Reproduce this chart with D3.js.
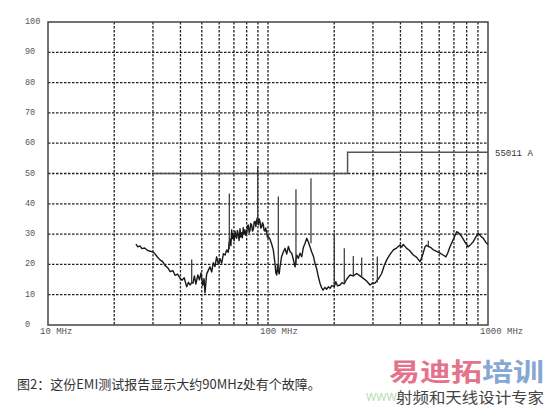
<!DOCTYPE html>
<html>
<head>
<meta charset="utf-8">
<script src="https://cdn.jsdelivr.net/npm/d3@7/dist/d3.min.js"></script>
<style>
  body { margin: 0; background: #fff; }
  svg { display: block; }
</style>
</head>
<body>
<div id="chart"></div>
<script>
// y ticks and x tick labels
var yTicks = [0, 10, 20, 30, 40, 50, 60, 70, 80, 90, 100];
var xGrid = [20, 30, 40, 50, 60, 70, 80, 90, 100, 200, 300, 400, 500, 600, 700, 800, 900];
var xLabels = [10, 100, 1000];

// limit line (EN 55011 class A)
var limitFreq = [30, 230, 230, 1000];
var limitLevel = [50, 50, 57, 57];

// measured trace, MHz / dBuV
var traceFreq = [25.1, 25.6, 26.2, 26.7, 27.5, 28.4, 29.6, 30.4, 31.3, 32.3, 33.2, 34.1, 35.0, 35.9, 37.0, 37.8, 38.8, 39.8,
  40.7, 41.6, 42.7, 43.5, 44.3, 45.0, 45.6, 46.3, 47.0, 48.0, 48.8, 49.6, 50.5, 51.2, 51.7, 52.6, 53.6, 54.5, 55.5, 56.4,
  57.4, 58.4, 59.5, 60.5, 61.6, 62.7, 63.8, 64.9, 66.0, 66.5, 67.2, 67.8, 68.4, 69.0, 69.6, 70.2, 70.8, 71.4, 72.0, 72.6,
  73.3, 73.9, 74.6, 75.2, 75.9, 76.5, 77.2, 77.9, 78.6, 79.3, 80.0, 80.7, 81.4, 82.1, 82.8, 83.5, 84.3, 85.0, 85.8, 86.5,
  87.3, 88.1, 88.9, 89.6, 90.5, 91.2, 92.0, 92.8, 93.6, 94.4, 95.2, 96.0, 96.9, 97.7, 98.6, 99.4, 100.3, 102.0, 103.8,
  105.7, 107.5, 108.5, 109.6,
  110.5, 111.4, 112.4, 113.4, 115.3, 117.4, 119.5, 121.6, 123.8, 126.0, 128.2, 130.4, 132.7, 134.0, 135.1, 137.4, 139.8,
  142.3, 144.8, 147.4, 150.0, 152.6, 155.2, 158.0, 160.7, 163.5, 166.4, 169.3, 172.3, 175.3, 177.8, 181.5, 184.7, 188.0,
  191.4, 195.0, 200.1, 203.5, 207.0, 212.5, 217.0, 222.2, 228.0, 235.9, 244.2, 253.1, 261.0, 271.2, 280.0, 290.9, 299.0,
  306.5, 314.0, 320.0, 328.6, 337.0, 346.4, 358.0, 371.5, 384.0, 398.1, 405.0, 412.0, 426.9, 440.0, 457.5, 473.0, 490.7,
  503.0, 517.1, 526.0, 535.5, 549.0, 564.0, 584.0, 605.1, 625.0, 644.3, 658.0, 671.9, 695.0, 720.6, 738.0, 759.2, 785.0,
  813.3, 835.0, 857.0, 880.0, 903.6, 925.0, 952.0, 975.0, 1000];
var traceLevel = [26.7, 25.8, 26.1, 25.2, 25.4, 24.6, 24.2, 23.8, 22.6, 21.5, 20.9, 19.6, 18.9, 17.6, 17.9, 16.4, 16.8, 15.5,
  14.8, 15.6, 12.6, 14.1, 13.2, 14.0, 13.8, 16.2, 13.5, 16.5, 14.9, 17.2, 13.1, 15.3, 10.6, 16.8, 18.1, 19.2, 17.5, 20.6,
  19.3, 22.5, 20.1, 21.9, 20.4, 23.5, 23.1, 24.8, 24.0, 27.0, 28.3, 26.2, 31.4, 28.5, 30.1, 27.8, 31.0, 29.2, 28.6, 31.2,
  29.7, 27.9, 31.8, 29.0, 30.5, 28.8, 32.1, 30.0, 31.4, 29.6, 30.2, 32.6, 33.0, 30.5, 31.2, 33.5, 33.0, 31.0, 31.6, 34.0,
  34.2, 32.5, 34.7, 35.5, 33.1, 35.0, 34.0, 32.0, 32.4, 33.8, 33.1, 31.2, 31.0, 32.0, 30.6, 29.0, 29.2, 28.4, 26.8,
  24.8, 20.5, 17.2, 16.5,
  19.8, 17.8, 16.9, 19.2, 22.6, 24.1, 25.3, 23.4, 25.9, 24.2, 23.7, 21.6, 19.2, 21.5, 23.1, 22.0, 23.7,
  22.5, 25.6, 27.0, 28.6, 27.4, 25.8, 24.1, 22.8, 20.4, 18.6, 16.0, 13.8, 12.3, 11.5, 12.4, 11.8, 12.6,
  12.1, 13.0, 12.7, 14.3, 12.9, 13.2, 14.0, 13.6, 15.2, 16.5, 16.2, 17.0, 16.3, 15.4, 14.6, 13.2, 13.9,
  13.8, 14.8, 15.6, 17.0, 19.5, 21.5, 23.2, 24.8, 25.4, 26.4, 25.7, 26.6, 25.3, 24.6, 23.1, 22.4, 20.9,
  22.8, 25.8, 26.3, 25.9, 25.6, 24.8, 24.3, 23.7, 23.1, 22.5, 24.0, 25.8, 28.2, 30.8, 30.3, 29.2, 27.4,
  25.8, 26.6, 27.5, 29.0, 30.3, 29.4, 28.6, 27.4, 26.6];

// narrow-band spikes
var spikeFreq = [45.0, 66.7, 89.8, 111.4, 134.0, 156.8, 200.1, 222.2, 244.2, 266.6, 314.0, 535.5];
var spikeBase = [14.0, 25.0, 34.0, 18.0, 20.0, 27.0, 13.0, 14.0, 16.0, 16.0, 14.0, 25.9];
var spikePeak = [21.6, 43.4, 52.3, 42.4, 44.8, 48.4, 30.3, 25.3, 22.8, 22.3, 22.6, 27.8];

var W = 550, H = 410;
var plotL = 48, plotR = 488, plotT = 22, plotB = 325;

var svg = d3.select("#chart").append("svg")
  .attr("width", W)
  .attr("height", H);

var x = d3.scaleLog().domain([10, 1000]).range([plotL, plotR]);
var y = d3.scaleLinear().domain([0, 100]).range([plotB, plotT]);

var mono = "'Liberation Mono', 'DejaVu Sans Mono', monospace";

// grid
svg.append("g").selectAll("line")
  .data(yTicks.filter(function(d) { return d > 0 && d < 100; }))
  .enter().append("line")
  .attr("x1", plotL).attr("x2", plotR)
  .attr("y1", function(d) { return y(d); })
  .attr("y2", function(d) { return y(d); })
  .style("stroke", "#222")
  .style("stroke-width", 1.3)
  .style("stroke-dasharray", "2.5,1.5");

svg.append("g").selectAll("line")
  .data(xGrid)
  .enter().append("line")
  .attr("x1", function(d) { return x(d); })
  .attr("x2", function(d) { return x(d); })
  .attr("y1", plotT).attr("y2", plotB)
  .style("stroke", "#222")
  .style("stroke-width", 1.3)
  .style("stroke-dasharray", "2.5,1.5");

// frame
svg.append("rect")
  .attr("x", plotL).attr("y", plotT)
  .attr("width", plotR - plotL).attr("height", plotB - plotT)
  .style("fill", "none")
  .style("stroke", "#444")
  .style("stroke-width", 1.5);

// y labels
svg.append("g").selectAll("text")
  .data(yTicks)
  .enter().append("text")
  .attr("x", 25)
  .attr("y", function(d) { return y(d) + 2; })
  .style("font-family", mono)
  .style("font-size", "8.5px")
  .style("fill", "#555")
  .text(function(d) { return d; });

// x labels
svg.append("g").selectAll("text")
  .data(xLabels)
  .enter().append("text")
  .attr("x", function(d) { return x(d) - 8; })
  .attr("y", 334)
  .style("font-family", mono)
  .style("font-size", "9px")
  .style("fill", "#555")
  .text(function(d) { return d + " MHz"; });

// limit line
var limit = limitFreq.map(function(f, i) { return [f, limitLevel[i]]; });
svg.append("path")
  .datum(limit)
  .attr("d", d3.line()
    .x(function(d) { return x(d[0]); })
    .y(function(d) { return y(d[1]); }))
  .style("fill", "none")
  .style("stroke", "#555")
  .style("stroke-width", 1.5);

svg.append("text")
  .attr("x", 495)
  .attr("y", y(57) + 4)
  .style("font-family", mono)
  .style("font-size", "9px")
  .style("fill", "#333")
  .text("55011 A");

// trace
var trace = traceFreq.map(function(f, i) { return [f, traceLevel[i]]; });
svg.append("path")
  .datum(trace)
  .attr("d", d3.line()
    .x(function(d) { return x(d[0]); })
    .y(function(d) { return y(d[1]); }))
  .style("fill", "none")
  .style("stroke", "#1a1a1a")
  .style("stroke-width", 1.4)
  .style("stroke-linejoin", "round");

svg.append("g").selectAll("line")
  .data(spikeFreq)
  .enter().append("line")
  .attr("x1", function(d) { return x(d); })
  .attr("x2", function(d) { return x(d); })
  .attr("y1", function(d, i) { return y(spikeBase[i]); })
  .attr("y2", function(d, i) { return y(spikePeak[i]); })
  .style("stroke", "#333")
  .style("stroke-width", 1.2);

// caption
svg.append("text")
  .attr("x", 17)
  .attr("y", 389)
  .style("font-family", "'Noto Sans CJK SC', sans-serif")
  .style("font-size", "13px")
  .style("fill", "#333")
  .text("图2：这份EMI测试报告显示大约90MHz处有个故障。");

// watermark
svg.append("text")
  .attr("x", 366)
  .attr("y", 401)
  .style("font-family", "'Noto Sans', sans-serif")
  .style("font-size", "11px")
  .style("fill", "#b9dcb3")
  .text("WWW");

var wm = svg.append("text")
  .attr("x", 389)
  .attr("y", 381)
  .attr("textLength", 155)
  .attr("lengthAdjust", "spacingAndGlyphs")
  .style("font-family", "'Noto Sans CJK SC', sans-serif")
  .style("font-size", "25px")
  .style("font-weight", "bold");
wm.append("tspan").style("fill", "#e4728a").text("易迪拓");
wm.append("tspan").style("fill", "#86a7d4").text("培训");

svg.append("text")
  .attr("x", 396)
  .attr("y", 403)
  .attr("textLength", 148)
  .attr("lengthAdjust", "spacingAndGlyphs")
  .style("font-family", "'Noto Sans CJK SC', sans-serif")
  .style("font-size", "15px")
  .style("fill", "#444")
  .text("射频和天线设计专家");
</script>
</body>
</html>
